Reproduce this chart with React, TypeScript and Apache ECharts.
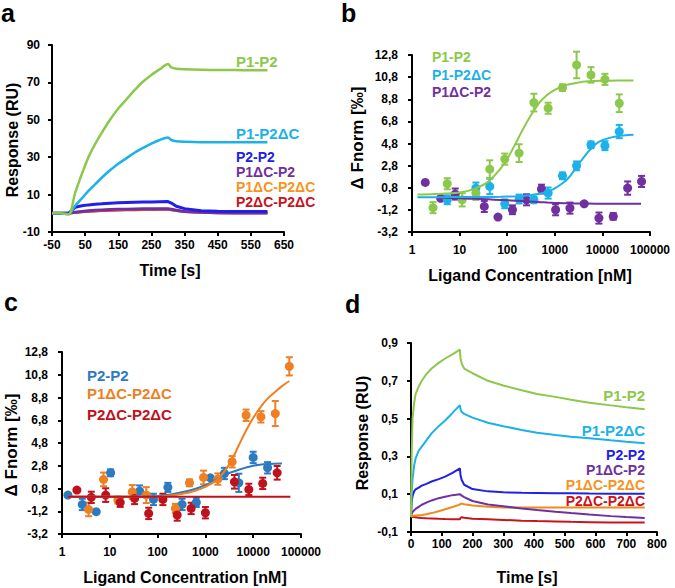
import React, { useEffect, useRef } from 'react';
import * as echarts from 'echarts';

// ---------- Panel a (SPR, Response RU vs Time s) ----------
const aXTicks = [-50, 50, 150, 250, 350, 450, 550, 650];
const aYTicks = [-10, 10, 30, 50, 70, 90];
const aTime = [-50, -25, 0, 20, 40, 60, 80, 100, 125, 150, 175, 200, 225, 250, 275, 300, 310, 325, 350, 400, 450, 500, 550, 600];
const aP1P2 = [0, 0, -0.5, 11, 21, 30, 37, 43, 50, 56, 61, 66, 70.5, 74, 77, 79.8, 78, 77.3, 77, 76.7, 76.6, 76.6, 76.5, 76.5];
const aP1P2dC = [0, 0, -0.5, 4, 8, 12, 15.5, 19, 23, 26.5, 29.5, 32.5, 35, 37.3, 39.2, 40.5, 39.2, 38.5, 38.2, 38, 38, 38, 38, 38];
const aP2P2 = [0, 0, 0, 3.2, 4.0, 4.5, 4.9, 5.1, 5.4, 5.6, 5.8, 5.9, 6.0, 6.1, 6.2, 6.3, 5.5, 3.8, 2.5, 1.4, 1.1, 1.0, 0.9, 0.9];
const aP1dCP2 = [0, 0, 0, 0.6, 1.0, 1.3, 1.6, 1.8, 2.0, 2.1, 2.2, 2.3, 2.4, 2.4, 2.5, 2.5, 2.2, 1.6, 1.0, 0.5, 0.3, 0.2, 0.1, 0.1];
const aP1dCP2dC = [0, 0, 0, 0.5, 0.9, 1.2, 1.4, 1.6, 1.8, 1.9, 2.0, 2.1, 2.2, 2.2, 2.3, 2.3, 2.0, 1.5, 0.9, 0.5, 0.3, 0.2, 0.1, 0.1];
const aP2dCP2dC = [0, 0, 0, 0.4, 0.7, 0.9, 1.1, 1.3, 1.5, 1.6, 1.7, 1.8, 1.9, 1.9, 2.0, 2.0, 1.8, 1.3, 0.8, 0.4, 0.2, 0.1, 0.1, 0.1];

// ---------- Panel b (MST) ----------
const bP1P2X = [2.76, 5.5, 11.3, 22, 43, 89, 178, 363, 725, 1450, 2870, 5750, 11300, 22600];
const bP1P2Y = [-1.0, 1.16, -0.29, 0.3, 2.48, 3.39, 3.93, 8.5, 7.99, 9.85, 11.9, 11.0, 10.6, 8.44];
const bP1P2E = [0.5, 0.5, 0.6, 0.6, 0.8, 0.5, 0.8, 0.8, 0.5, 0.3, 1.2, 0.7, 0.5, 0.8];
const bP1P2dCX = [5.5, 22, 43, 89, 178, 363, 725, 1450, 2870, 5750, 11300, 22600];
const bP1P2dCY = [-0.29, 0.77, 0.92, -0.65, -0.22, -0.29, 0.32, 1.88, 2.78, 4.68, 4.6, 5.88];
const bP1P2dCE = [0.4, 0.5, 0.7, 0.4, 0.4, 0.3, 0.5, 0.3, 0.4, 0.3, 0.4, 0.6];
const bP1dCP2X = [1.9, 4, 8.1, 33, 64, 129, 255, 525, 1040, 2080, 4150, 8450, 16900, 33900, 66500];
const bP1dCP2Y = [1.28, -0.16, 0.23, -0.89, -1.85, -1.19, -0.29, 0.68, -1.19, -1.04, -0.65, -1.94, -1.79, 0.77, 1.37];
const bP1dCP2E = [0, 0, 0.5, 0.5, 0, 0.4, 0.5, 0.4, 0.5, 0.5, 0, 0.5, 0.3, 0.6, 0.5];
// fitted curves
const bFitP1P2X = [1.3, 2.5, 5, 10, 20, 40, 70, 100, 150, 200, 300, 500, 700, 1000, 1500, 2000, 3000, 5000, 7000, 10000, 20000, 45000];
const bFitP1P2Y = [0.2, 0.22, 0.27, 0.38, 0.68, 1.35, 2.45, 3.4, 4.8, 5.85, 7.2, 8.6, 9.2, 9.65, 10.0, 10.15, 10.3, 10.42, 10.45, 10.47, 10.49, 10.5];
const bFitP1P2dCX = [1.3, 2.5, 5, 10, 20, 40, 70, 100, 150, 200, 300, 500, 700, 1000, 1500, 2000, 3000, 5000, 7000, 10000, 20000, 45000];
const bFitP1P2dCY = [-0.05, -0.05, -0.05, -0.04, -0.04, -0.03, -0.02, 0.0, 0.03, 0.06, 0.13, 0.28, 0.45, 0.75, 1.25, 1.75, 2.8, 4.05, 4.7, 5.1, 5.45, 5.58];
const bFitP1dCP2X = [4, 10, 20, 40, 70, 100, 150, 200, 300, 500, 700, 1000, 1500, 2000, 3000, 5000, 10000, 20000, 65000];
const bFitP1dCP2Y = [-0.12, -0.15, -0.2, -0.25, -0.3, -0.33, -0.37, -0.4, -0.45, -0.5, -0.54, -0.57, -0.6, -0.61, -0.62, -0.63, -0.64, -0.65, -0.65];

// ---------- Panel c (MST) ----------
const cP2P2X = [1.33, 2.66, 5.2, 10.4, 42, 82, 164, 325, 645, 1270, 2500, 5000, 10000, 20000];
const cP2P2Y = [0.22, -0.6, -1.24, 2.18, 0.57, -0.16, 0.9, -0.6, -0.42, 1.74, 2.12, 1.3, 3.53, 2.62];
const cP2P2E = [0, 0.5, 0, 0.3, 0.5, 0.5, 0.4, 0.5, 0.4, 0, 0.5, 0.8, 0.5, 0.5];
const cP1dCP2dCX = [3.6, 7.4, 14.8, 29.5, 58, 236, 465, 915, 1820, 3630, 7100, 14500, 29000, 57000];
const cP1dCP2dCY = [-1.04, 1.6, -0.22, 0.5, 0.22, -0.95, 1.3, 1.77, 1.63, 3.15, 7.24, 7.1, 7.39, 11.54];
const cP1dCP2dCE = [0.6, 0.6, 0.3, 0.6, 0.7, 0.4, 0.3, 0.6, 0.5, 0.5, 0.5, 0.5, 1.1, 0.8];
const cP2dCP2dCX = [2.05, 4.1, 8.2, 16.5, 33, 65, 129, 257, 503, 1000, 4050, 8100, 15800, 31700];
const cP2dCP2dCY = [0.66, 0.02, 0.22, -0.42, -0.07, -1.39, -0.16, -1.53, -0.95, -1.33, 1.39, 0.72, 1.25, 2.18];
const cP2dCP2dCE = [0, 0.5, 0.6, 0.4, 0.5, 0.5, 0.5, 0.5, 0.5, 0.5, 0.6, 0.5, 0.5, 0.6];
const cFitP2P2X = [1.33, 10, 50, 100, 200, 400, 700, 1000, 1500, 2500, 5000, 10000, 20000, 40000];
const cFitP2P2Y = [0.08, 0.08, 0.1, 0.15, 0.3, 0.55, 0.85, 1.1, 1.45, 1.98, 2.45, 2.8, 2.95, 3.0];
const cFitP1dCP2dCX = [1.33, 10, 93, 150, 250, 500, 1000, 1800, 2500, 3600, 5000, 7100, 10000, 14500, 20000, 29000, 40000, 57000];
const cFitP1dCP2dCY = [0.08, 0.08, 0.1, 0.15, 0.25, 0.5, 0.95, 1.6, 2.3, 3.35, 4.6, 5.9, 7.0, 8.0, 8.7, 9.3, 9.8, 10.25];
const cFitP2dCP2dCX = [1.33, 10, 100, 1000, 10000, 60000];
const cFitP2dCP2dCY = [0.08, 0.08, 0.08, 0.08, 0.08, 0.08];

// ---------- Panel d (SPR) ----------
const dYTicks = [-0.1, 0.1, 0.3, 0.5, 0.7, 0.9];
const dTime = [0, 2, 5, 10, 15, 25, 35, 50, 67, 90, 111, 135, 159, 161, 165, 173, 200, 250, 300, 360, 410, 470, 520, 580, 650, 700, 760];
const dP1P2 = [-0.02, 0.3, 0.5, 0.58, 0.63, 0.67, 0.7, 0.735, 0.765, 0.795, 0.818, 0.84, 0.865, 0.82, 0.79, 0.765, 0.74, 0.7, 0.675, 0.65, 0.63, 0.615, 0.6, 0.584, 0.57, 0.56, 0.55];
const dP1P2dC = [-0.02, 0.1, 0.18, 0.25, 0.29, 0.33, 0.352, 0.385, 0.422, 0.46, 0.49, 0.53, 0.571, 0.55, 0.535, 0.525, 0.505, 0.478, 0.46, 0.44, 0.425, 0.413, 0.404, 0.396, 0.385, 0.378, 0.37];
const dP2P2 = [-0.02, 0.06, 0.09, 0.115, 0.125, 0.135, 0.145, 0.155, 0.167, 0.18, 0.193, 0.213, 0.237, 0.2, 0.175, 0.15, 0.127, 0.115, 0.11, 0.108, 0.107, 0.105, 0.105, 0.104, 0.103, 0.103, 0.102];
const dP1dCP2 = [-0.015, -0.005, 0.005, 0.015, 0.022, 0.033, 0.044, 0.055, 0.067, 0.079, 0.087, 0.095, 0.1, 0.098, 0.092, 0.085, 0.064, 0.046, 0.036, 0.024, 0.016, 0.007, 0.0, -0.008, -0.016, -0.021, -0.026];
const dP1dCP2dC = [-0.015, -0.015, -0.015, -0.014, -0.013, -0.012, -0.01, -0.006, 0.0, 0.01, 0.02, 0.032, 0.045, 0.05, 0.05, 0.047, 0.04, 0.034, 0.03, 0.03, 0.03, 0.03, 0.03, 0.03, 0.03, 0.03, 0.03];
const dP2dCP2dC = [-0.02, -0.02, -0.02, -0.021, -0.022, -0.024, -0.026, -0.027, -0.028, -0.03, -0.031, -0.032, -0.033, -0.025, -0.022, -0.025, -0.03, -0.033, -0.036, -0.04, -0.042, -0.044, -0.046, -0.048, -0.05, -0.05, -0.05];

const mstYTicks = [-3.2, -1.2, 0.8, 2.8, 4.8, 6.8, 8.8, 10.8, 12.8];

// ---------- texts ----------
const sprLabels = ['P1-P2', 'P1-P2ΔC', 'P2-P2', 'P1ΔC-P2', 'P1ΔC-P2ΔC', 'P2ΔC-P2ΔC'];
const bLegend = ['P1-P2', 'P1-P2ΔC', 'P1ΔC-P2'];
const cLegend = ['P2-P2', 'P1ΔC-P2ΔC', 'P2ΔC-P2ΔC'];
const panelLetters = ['a', 'b', 'c', 'd'];
const timeTitle = 'Time [s]';
const respTitle = 'Response (RU)';
const ligandTitle = 'Ligand Concentration [nM]';
const fnormTitle = 'Δ Fnorm [‰]';

const FONT = '"Liberation Sans", Arial, Helvetica, sans-serif';

const C = {
  green: '#8cc84b',
  cyan: '#1cb1e9',
  blue: '#2020e8',
  purple: '#7030a0',
  orange: '#f7941d',
  orangeLine: '#f08a1c',
  red: '#c8141e',
  cBlue: '#2b7bc0',
  cOrange: '#ee7f22',
  cRed: '#c0121c',
};

function zip(x: number[], y: number[]) {
  return x.map((v, i) => [v, y[i]]);
}

function axisCommon(extra: any = {}) {
  return {
    axisLine: { show: true, onZero: false, lineStyle: { color: '#000', width: 2 } },
    axisTick: { show: true, length: 4, lineStyle: { color: '#000', width: 2 } },
    axisLabel: { color: '#000', fontWeight: 'bold', fontSize: 12, fontFamily: FONT },
    splitLine: { show: false },
    ...extra,
  };
}

const commaFmt = (v: number) => (Math.round(v * 10) / 10).toFixed(1).replace('.', ',');

function lineSeries(idx: number, x: number[], y: number[], color: string, width: number, smooth: any = false) {
  return {
    type: 'line',
    xAxisIndex: idx,
    yAxisIndex: idx,
    data: zip(x, y),
    showSymbol: false,
    symbol: 'none',
    smooth,
    lineStyle: { color, width },
    silent: true,
  };
}

function scatterSeries(idx: number, x: number[], y: number[], color: string) {
  return {
    type: 'scatter',
    xAxisIndex: idx,
    yAxisIndex: idx,
    data: zip(x, y),
    symbol: 'circle',
    symbolSize: 9,
    itemStyle: { color, opacity: 1 },
    silent: true,
  };
}

function errorSeries(idx: number, x: number[], y: number[], e: number[], color: string) {
  const data = x.map((v, i) => [v, y[i], e[i]]).filter((d) => d[2] > 0);
  return {
    type: 'custom',
    xAxisIndex: idx,
    yAxisIndex: idx,
    data,
    encode: { x: 0, y: 1 },
    silent: true,
    renderItem: (params: any, api: any) => {
      const xv = api.value(0);
      const yv = api.value(1);
      const ev = api.value(2);
      const top = api.coord([xv, yv + ev]);
      const bot = api.coord([xv, yv - ev]);
      const w = 3.5;
      const st = { stroke: color, lineWidth: 2 };
      return {
        type: 'group',
        children: [
          { type: 'line', shape: { x1: top[0], y1: top[1], x2: bot[0], y2: bot[1] }, style: st },
          { type: 'line', shape: { x1: top[0] - w, y1: top[1], x2: top[0] + w, y2: top[1] }, style: st },
          { type: 'line', shape: { x1: bot[0] - w, y1: bot[1], x2: bot[0] + w, y2: bot[1] }, style: st },
        ],
      };
    },
  };
}

function txt(text: string, x: number, y: number, color: string, size: number, align = 'left', rotation = 0) {
  return {
    type: 'text',
    x,
    y,
    rotation,
    silent: true,
    style: {
      text,
      fill: color,
      font: `bold ${size}px ${FONT}`,
      align,
      verticalAlign: 'middle',
    },
  };
}

function buildOption() {
  const logFmt = (v: number) => String(Math.round(v));
  const sprColors = [C.green, C.cyan, C.blue, C.purple, C.orange, C.red];

  const aLabelY = [61, 133, 157, 172, 187, 202];
  const dLabelY = [395, 430, 455, 470, 485, 501];
  const bLegY = [57, 75, 92];
  const cLegY = [375, 393, 414];

  const graphics: any[] = [];
  // panel letters
  graphics.push(txt(panelLetters[0], 1, 13, '#000', 25));
  graphics.push(txt(panelLetters[1], 341, 13, '#000', 25));
  graphics.push(txt(panelLetters[2], 4, 302, '#000', 25));
  graphics.push(txt(panelLetters[3], 345, 304, '#000', 25));
  // axis titles
  graphics.push(txt(timeTitle, 170, 270, '#000', 16, 'center'));
  graphics.push(txt(respTitle, 12, 140, '#000', 16, 'center', Math.PI / 2));
  graphics.push(txt(ligandTitle, 530, 275, '#000', 16, 'center'));
  graphics.push(txt(fnormTitle, 357, 138, '#000', 17, 'center', Math.PI / 2));
  graphics.push(txt(ligandTitle, 185, 577, '#000', 16, 'center'));
  graphics.push(txt(fnormTitle, 11, 445, '#000', 17, 'center', Math.PI / 2));
  graphics.push(txt(timeTitle, 527, 577, '#000', 16, 'center'));
  graphics.push(txt(respTitle, 362, 433, '#000', 16, 'center', Math.PI / 2));
  // curve labels
  sprLabels.forEach((l, i) => {
    const sz = i < 2 ? 15 : 14;
    graphics.push(txt(l, 236, aLabelY[i], sprColors[i], sz));
    graphics.push(txt(l, 645, dLabelY[i], sprColors[i], sz, 'right'));
  });
  const bCols = [C.green, C.cyan, C.purple];
  bLegend.forEach((l, i) => graphics.push(txt(l, 432, bLegY[i], bCols[i], 14)));
  const cCols = [C.cBlue, C.cOrange, C.cRed];
  cLegend.forEach((l, i) => graphics.push(txt(l, 87, cLegY[i], cCols[i], 15)));

  return {
    animation: false,
    backgroundColor: '#fff',
    grid: [
      { left: 52, top: 45, width: 232, height: 187 },
      { left: 412, top: 55, width: 238, height: 177 },
      { left: 62, top: 352, width: 239, height: 182 },
      { left: 411, top: 343, width: 246, height: 189 },
    ],
    xAxis: [
      axisCommon({
        gridIndex: 0, type: 'value', min: -50, max: 650,
        axisLabel: { color: '#000', fontWeight: 'bold', fontSize: 12, fontFamily: FONT, margin: 7, customValues: aXTicks },
        axisTick: { show: true, length: 4, lineStyle: { color: '#000', width: 2 }, customValues: aXTicks },
      }),
      axisCommon({
        gridIndex: 1, type: 'log', logBase: 10, min: 1, max: 100000,
        axisLabel: { color: '#000', fontWeight: 'bold', fontSize: 12, fontFamily: FONT, margin: 12, formatter: logFmt },
      }),
      axisCommon({
        gridIndex: 2, type: 'log', logBase: 10, min: 1, max: 100000,
        axisLabel: { color: '#000', fontWeight: 'bold', fontSize: 12, fontFamily: FONT, margin: 12, formatter: logFmt },
      }),
      axisCommon({
        gridIndex: 3, type: 'value', min: 0, max: 800, interval: 100,
        axisLabel: { color: '#000', fontWeight: 'bold', fontSize: 12, fontFamily: FONT, margin: 6 },
      }),
    ],
    yAxis: [
      axisCommon({
        gridIndex: 0, type: 'value', min: -10, max: 90,
        axisLabel: { color: '#000', fontWeight: 'bold', fontSize: 12, fontFamily: FONT, margin: 12, customValues: aYTicks },
        axisTick: { show: true, length: 4, lineStyle: { color: '#000', width: 2 }, customValues: aYTicks },
      }),
      axisCommon({
        gridIndex: 1, type: 'value', min: -3.2, max: 12.8,
        axisLabel: { color: '#000', fontWeight: 'bold', fontSize: 12, fontFamily: FONT, margin: 14, customValues: mstYTicks, formatter: commaFmt },
        axisTick: { show: true, length: 4, lineStyle: { color: '#000', width: 2 }, customValues: mstYTicks },
      }),
      axisCommon({
        gridIndex: 2, type: 'value', min: -3.2, max: 12.8,
        axisLabel: { color: '#000', fontWeight: 'bold', fontSize: 12, fontFamily: FONT, margin: 14, customValues: mstYTicks, formatter: commaFmt },
        axisTick: { show: true, length: 4, lineStyle: { color: '#000', width: 2 }, customValues: mstYTicks },
      }),
      axisCommon({
        gridIndex: 3, type: 'value', min: -0.1, max: 0.9,
        axisLabel: { color: '#000', fontWeight: 'bold', fontSize: 12, fontFamily: FONT, margin: 13, customValues: dYTicks, formatter: commaFmt },
        axisTick: { show: true, length: 4, lineStyle: { color: '#000', width: 2 }, customValues: dYTicks },
      }),
    ],
    graphic: graphics,
    series: [
      // a
      lineSeries(0, aTime, aP2dCP2dC, C.red, 2.5),
      lineSeries(0, aTime, aP1dCP2dC, C.orange, 2.5),
      lineSeries(0, aTime, aP1dCP2, C.purple, 3),
      lineSeries(0, aTime, aP2P2, C.blue, 3),
      lineSeries(0, aTime, aP1P2dC, C.cyan, 2.5, 0.3),
      lineSeries(0, aTime, aP1P2, C.green, 2.5, 0.3),
      // b
      lineSeries(1, bFitP1dCP2X, bFitP1dCP2Y, C.purple, 2, 0.3),
      lineSeries(1, bFitP1P2dCX, bFitP1P2dCY, C.cyan, 2, 0.3),
      lineSeries(1, bFitP1P2X, bFitP1P2Y, C.green, 2, 0.3),
      errorSeries(1, bP1dCP2X, bP1dCP2Y, bP1dCP2E, C.purple),
      scatterSeries(1, bP1dCP2X, bP1dCP2Y, C.purple),
      errorSeries(1, bP1P2dCX, bP1P2dCY, bP1P2dCE, C.cyan),
      scatterSeries(1, bP1P2dCX, bP1P2dCY, C.cyan),
      errorSeries(1, bP1P2X, bP1P2Y, bP1P2E, C.green),
      scatterSeries(1, bP1P2X, bP1P2Y, C.green),
      // c
      lineSeries(2, cFitP2P2X, cFitP2P2Y, C.cBlue, 2, 0.3),
      lineSeries(2, cFitP1dCP2dCX, cFitP1dCP2dCY, C.cOrange, 2, 0.3),
      lineSeries(2, cFitP2dCP2dCX, cFitP2dCP2dCY, C.cRed, 2),
      errorSeries(2, cP2P2X, cP2P2Y, cP2P2E, C.cBlue),
      scatterSeries(2, cP2P2X, cP2P2Y, C.cBlue),
      errorSeries(2, cP1dCP2dCX, cP1dCP2dCY, cP1dCP2dCE, C.cOrange),
      scatterSeries(2, cP1dCP2dCX, cP1dCP2dCY, C.cOrange),
      errorSeries(2, cP2dCP2dCX, cP2dCP2dCY, cP2dCP2dCE, C.cRed),
      scatterSeries(2, cP2dCP2dCX, cP2dCP2dCY, C.cRed),
      // d
      lineSeries(3, dTime, dP2dCP2dC, C.red, 2),
      lineSeries(3, dTime, dP1dCP2dC, C.orangeLine, 2),
      lineSeries(3, dTime, dP1dCP2, C.purple, 2),
      lineSeries(3, dTime, dP2P2, C.blue, 2),
      lineSeries(3, dTime, dP1P2dC, C.cyan, 2),
      lineSeries(3, dTime, dP1P2, C.green, 2),
    ],
  };
}

export default function App() {
  const ref = useRef<HTMLDivElement>(null);
  useEffect(() => {
    if (!ref.current) return;
    const chart = echarts.init(ref.current, null, { renderer: 'svg' });
    chart.setOption(buildOption() as any);
    return () => chart.dispose();
  }, []);
  return (
    <div
      ref={ref}
      style={{ position: 'absolute', left: 0, top: 0, width: 675, height: 588, background: '#fff' }}
    />
  );
}
